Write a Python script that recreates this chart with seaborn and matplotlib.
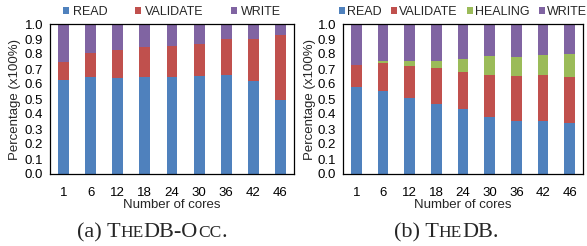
import numpy as np
import pandas as pd
import seaborn as sns
import matplotlib.pyplot as plt
from matplotlib.patches import Patch

cores = ["1", "6", "12", "18", "24", "30", "36", "42", "46"]

# (a) TheDB-Occ
read_a = [0.630, 0.644, 0.639, 0.648, 0.650, 0.653, 0.657, 0.619, 0.492]
validate_a = [0.120, 0.160, 0.185, 0.196, 0.203, 0.213, 0.241, 0.279, 0.437]
write_a = [0.250, 0.196, 0.176, 0.156, 0.147, 0.134, 0.102, 0.102, 0.071]

# (b) TheDB
read_b = [0.583, 0.555, 0.506, 0.470, 0.432, 0.383, 0.352, 0.354, 0.343]
validate_b = [0.141, 0.182, 0.211, 0.240, 0.249, 0.278, 0.303, 0.307, 0.307]
healing_b = [0.002, 0.016, 0.038, 0.045, 0.087, 0.125, 0.122, 0.132, 0.150]
write_b = [0.274, 0.247, 0.245, 0.245, 0.232, 0.214, 0.223, 0.207, 0.200]

colors = {"READ": "#4F81BD", "VALIDATE": "#C0504D",
          "HEALING": "#9BBB59", "WRITE": "#8064A2"}

sns.set_theme(style="white")
plt.rcParams['font.family'] = ['Liberation Sans', 'DejaVu Sans']
plt.rcParams['font.size'] = 9

W, H = 587, 246
fig = plt.figure(figsize=(W / 100, H / 100), dpi=100)
fig.patch.set_facecolor("white")


def stacked(ax, segments):
    # draw from the top segment down, each bar covering the cumulative height
    names = list(segments.keys())
    cum = np.cumsum([segments[n] for n in names], axis=0)
    for i in range(len(names) - 1, -1, -1):
        df = pd.DataFrame({"cores": cores, "val": cum[i]})
        sns.barplot(data=df, x="cores", y="val", order=cores, ax=ax,
                    color=colors[names[i]], saturation=1, width=0.4,
                    linewidth=0)
    ax.set_ylim(0, 1)
    ax.set_xlim(-0.5, len(cores) - 0.5)
    ticks = np.arange(0, 1.01, 0.1)
    ax.set_yticks(ticks)
    ax.set_yticklabels(["%.1f" % v for v in ticks])
    ax.tick_params(axis='y', direction='in', length=3, width=0.8,
                   pad=5, labelsize=9.5, colors='black')
    ax.tick_params(axis='x', length=0, pad=9, labelsize=9.5, colors='black')
    for s in ax.spines.values():
        s.set_visible(True)
        s.set_color('black')
        s.set_linewidth(0.9)
    ax.set_xlabel("Number of cores", fontsize=9.5)
    ax.set_ylabel("Percentage (x100%)", fontsize=9.5)
    ax.xaxis.set_label_coords(0.5, -0.165)


def legend(ax, names, spacing, textpad):
    handles = [Patch(facecolor=colors[n], edgecolor='none', label=n) for n in names]
    ax.legend(handles=handles, loc='center', bbox_to_anchor=(0.5, 1.08),
              ncol=len(names), frameon=False, fontsize=9,
              handlelength=0.5, handleheight=0.5, handletextpad=textpad,
              columnspacing=spacing, borderaxespad=0, borderpad=0)


def caption(x, pieces, y=(H - 237) / H, size=16):
    # fake small caps: (text, small) pieces placed one after another
    serif = ['Liberation Serif', 'DejaVu Serif']
    prev = None
    for txt, small in pieces:
        fs = size * 0.78 if small else size
        if prev is None:
            prev = fig.text(x, y, txt, fontsize=fs, family=serif,
                            ha='left', va='baseline')
        else:
            prev = fig.add_artist(plt.Annotation(
                txt, xy=(1, y), xycoords=(prev, 'figure fraction'),
                fontsize=fs, family=serif, ha='left', va='baseline'))


ax1 = fig.add_axes([50 / W, 72 / H, 244 / W, 150 / H])
stacked(ax1, {"READ": read_a, "VALIDATE": validate_a, "WRITE": write_a})
ax1.yaxis.set_label_coords(-0.119, 0.5)
legend(ax1, ["READ", "VALIDATE", "WRITE"], 2.2, 0.3)

ax2 = fig.add_axes([343 / W, 72 / H, 240 / W, 150 / H])
stacked(ax2, {"READ": read_b, "VALIDATE": validate_b,
              "HEALING": healing_b, "WRITE": write_b})
ax2.yaxis.set_label_coords(-0.112, 0.5)
legend(ax2, ["READ", "VALIDATE", "HEALING", "WRITE"], 0.75, 0.15)

caption(77 / W, [("(a) T", False), ("HE", True), ("DB-O", False),
                 ("CC", True), (".", False)])
caption(394 / W, [("(b) T", False), ("HE", True), ("DB.", False)])

fig.savefig("out.png", dpi=100, facecolor="white")
